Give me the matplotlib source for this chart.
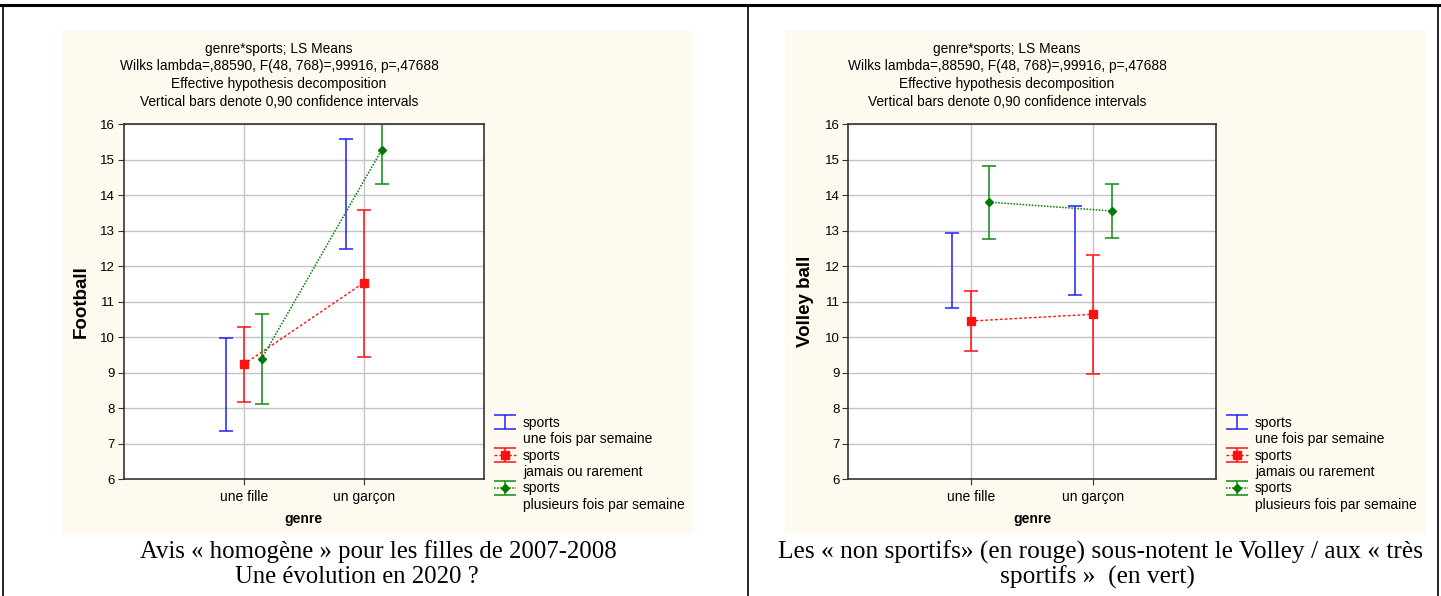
import matplotlib
matplotlib.use('Agg')
import matplotlib.pyplot as plt
from matplotlib.lines import Line2D
from matplotlib.patches import Rectangle
import numpy as np

plt.rcParams['font.family'] = ['Liberation Sans', 'DejaVu Sans']

categories = ['une fille', 'un garçon']
x_pos = np.array([1, 2])
y_ticks = list(range(6, 17))

title_lines = ['genre*sports; LS Means',
               'Wilks lambda=,88590, F(48, 768)=,99916, p=,47688',
               'Effective hypothesis decomposition',
               'Vertical bars denote 0,90 confidence intervals']
legend_lines = ['sports', 'une fois par semaine',
                'sports', 'jamais ou rarement',
                'sports', 'plusieurs fois par semaine']

# Football (left)
foot_blue_lo = [7.35, 12.47]
foot_blue_hi = [9.98, 15.59]
foot_red_mean = [9.23, 11.53]
foot_red_lo = [8.18, 9.45]
foot_red_hi = [10.29, 13.58]
foot_green_mean = [9.39, 15.28]
foot_green_lo = [8.11, 14.32]
foot_green_hi = [10.66, 16.24]

# Volley ball (right)
volley_blue_lo = [10.81, 11.17]
volley_blue_hi = [12.93, 13.69]
volley_red_mean = [10.45, 10.64]
volley_red_lo = [9.61, 8.97]
volley_red_hi = [11.30, 12.31]
volley_green_mean = [13.80, 13.55]
volley_green_lo = [12.77, 12.79]
volley_green_hi = [14.82, 14.30]

captions_left = ['Avis « homogène » pour les filles de 2007-2008', 'Une évolution en 2020 ?']
captions_right = ['Les « non sportifs» (en rouge) sous-notent le Volley / aux « très', 'sportifs »  (en vert)']

W, H = 1441, 596
BLUE = '#2020ff'
RED = '#ff1010'
GREEN = '#108a10'
BEIGE = '#fefaf0'

fig = plt.figure(figsize=(W / 100, H / 100), dpi=100)
fig.patch.set_facecolor('white')


def fx(px):
    return px / W


def fy(py):
    return 1 - py / H


# table borders
for xs, ys, lw in [((0, W), (5, 5), 2.2), ((3, 3), (5, H), 1.2),
                   ((748, 748), (5, H), 1.2), ((1438, 1438), (5, H), 1.2)]:
    fig.add_artist(Line2D([fx(xs[0]), fx(xs[1])], [fy(ys[0]), fy(ys[1])],
                          color='black', lw=lw, transform=fig.transFigure))

# beige panels
for x0, x1 in [(62, 693), (785, 1426)]:
    fig.add_artist(Rectangle((fx(x0), fy(534)), fx(x1 - x0), (534 - 30) / H,
                             transform=fig.transFigure, facecolor=BEIGE,
                             edgecolor='none', zorder=-5))


def draw_panel(ax_left, ax_right, title_cx, ylabel, blue_lo, blue_hi,
               red_m, red_lo, red_hi, green_m, green_lo, green_hi):
    ax = fig.add_axes([fx(ax_left), fy(479), fx(ax_right - ax_left), (479 - 124) / H])
    ax.set_facecolor('white')
    off = 0.15
    cap = 4.7
    blue_lo = np.array(blue_lo); blue_hi = np.array(blue_hi)
    blue_c = (blue_lo + blue_hi) / 2
    hb = ax.errorbar(x_pos - off, blue_c, yerr=[blue_c - blue_lo, blue_hi - blue_c],
                     fmt='none', ecolor=BLUE, elinewidth=1.1, capsize=cap, capthick=1.1)
    red_m = np.array(red_m)
    hr = ax.errorbar(x_pos, red_m, yerr=[red_m - np.array(red_lo), np.array(red_hi) - red_m],
                     fmt='s', ls=(0, (2, 1.5)), lw=1, color=RED, ecolor=RED, ms=5.5,
                     elinewidth=1.1, capsize=cap, capthick=1.1)
    green_m = np.array(green_m)
    hg = ax.errorbar(x_pos + off, green_m, yerr=[green_m - np.array(green_lo), np.array(green_hi) - green_m],
                     fmt='D', ls=(0, (1, 1)), lw=1.1, color='#007a00', ecolor=GREEN, ms=4.5,
                     elinewidth=1.1, capsize=cap, capthick=1.1)
    ax.set_xlim(0, 3)
    ax.set_ylim(6, 16)
    ax.set_xticks(x_pos)
    ax.set_xticklabels(categories, fontsize=10)
    ax.set_yticks(y_ticks)
    ax.tick_params(axis='y', labelsize=9.5, length=4, pad=2, color='#333333')
    ax.tick_params(axis='x', length=4, pad=4, color='#333333')
    ax.grid(True, color='#c4c4c4', lw=1)
    ax.set_axisbelow(True)
    for s in ax.spines.values():
        s.set_color('#333333')
        s.set_linewidth(1.2)
    ax.set_ylabel(ylabel, fontsize=13.5, fontweight='bold', va='center')
    ax.yaxis.set_label_coords(-0.116, 0.5)
    ax.set_xlabel('genre', fontsize=10, fontweight='bold', va='center')
    ax.xaxis.set_label_coords(0.5, -0.113)
    for line, ty in zip(title_lines, [48.5, 66, 84, 102.5]):
        fig.text(fx(title_cx), fy(ty), line, ha='center', va='center', fontsize=9.9)
    blank = Line2D([], [], color='none')
    leg = ax.legend([hb, blank, hr, blank, hg, blank], legend_lines,
                    loc='upper left', bbox_to_anchor=(fx(ax_right + 10), fy(416)),
                    bbox_transform=fig.transFigure, frameon=False, fontsize=10,
                    borderpad=0, borderaxespad=0, handlelength=1.6, handletextpad=0.5,
                    labelspacing=0.17)
    # wider caps in the legend keys, as in the original
    for art in leg.findobj(Line2D):
        if art.get_marker() == '_':
            art.set_markersize(16)
    return ax


draw_panel(123.5, 484, 279, 'Football', foot_blue_lo, foot_blue_hi,
           foot_red_mean, foot_red_lo, foot_red_hi,
           foot_green_mean, foot_green_lo, foot_green_hi)
draw_panel(848, 1216, 1007, 'Volley ball', volley_blue_lo, volley_blue_hi,
           volley_red_mean, volley_red_lo, volley_red_hi,
           volley_green_mean, volley_green_lo, volley_green_hi)

serif = ['Liberation Serif', 'DejaVu Serif']
fig.text(fx(378), fy(552), captions_left[0], ha='center', va='center', fontsize=17.8, family=serif)
fig.text(fx(357), fy(577), captions_left[1], ha='center', va='center', fontsize=17.8, family=serif)
fig.text(fx(1100), fy(552), captions_right[0], ha='center', va='center', fontsize=18.3, family=serif)
fig.text(fx(1097), fy(577), captions_right[1], ha='center', va='center', fontsize=18.3, family=serif)

fig.savefig('out.png', dpi=100)
